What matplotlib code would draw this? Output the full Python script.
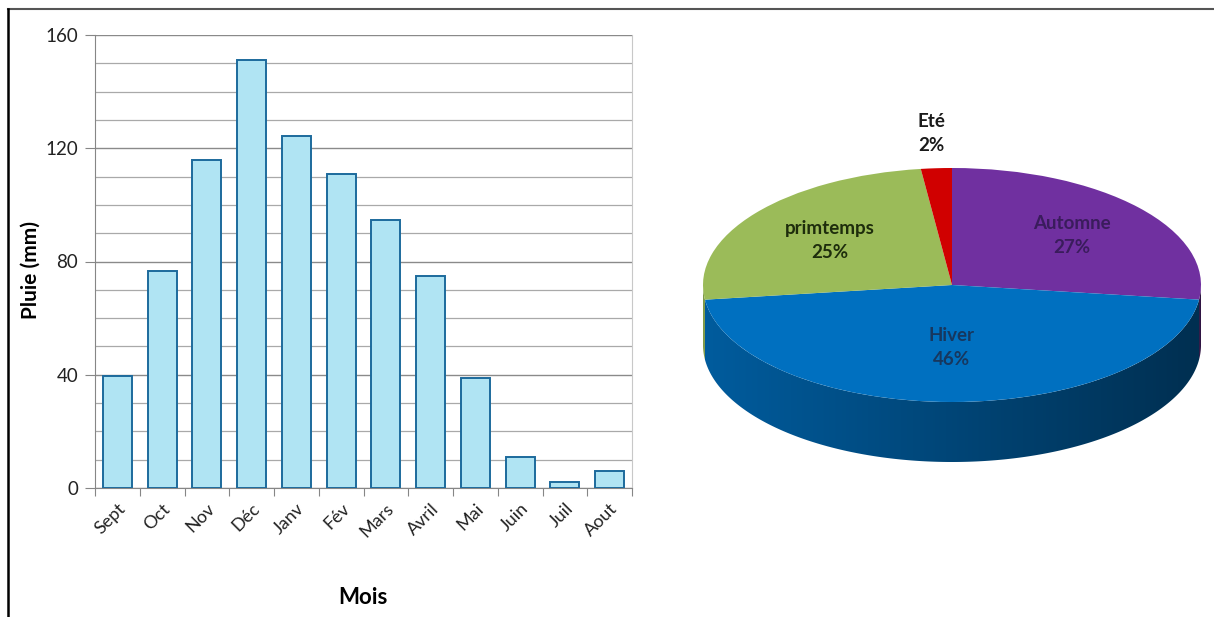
import numpy as np
import matplotlib.pyplot as plt
from matplotlib.colors import to_rgb
from matplotlib.patches import Polygon
from matplotlib.lines import Line2D

plt.rcParams['font.family'] = ['Lato', 'DejaVu Sans']

# pluie mensuelle
mois = ['Sept', 'Oct', 'Nov', 'Déc', 'Janv', 'Fév', 'Mars', 'Avril', 'Mai', 'Juin', 'Juil', 'Aout']
pluie = [39.5, 76.5, 116, 151, 124.5, 111, 94.5, 75, 39, 11, 2, 6]

# part de chaque saison (%)
saisons = ['Automne', 'Hiver', 'primtemps', 'Eté']
parts = [27, 46, 25, 2]
couleurs = ['#7030a0', '#0070c0', '#9bbb59', '#d00000']
couleurs_texte = ['#3a1c5c', '#17375e', '#1e2d0c', '#1a1a1a']

W, H = 1214, 617
fig = plt.figure(figsize=(W / 100, H / 100), dpi=100)

# cadre
fig.add_artist(Line2D([8 / W, 1], [1 - 9 / H, 1 - 9 / H], color='#555555', lw=1.5))
fig.add_artist(Line2D([8 / W, 8 / W], [0, 1 - 9 / H], color='black', lw=1.8))

# ---- histogramme ----
ax = fig.add_axes([95 / W, 1 - 488 / H, 537 / W, 453 / H])
x = np.arange(len(mois))
ax.bar(x, pluie, width=0.65, color='#b0e4f3', edgecolor='#1c6a9c', linewidth=1.4, zorder=3)
ax.set_xlim(-0.5, len(mois) - 0.5)
ax.set_ylim(0, 160)

ax.set_yticks(np.arange(0, 161, 40))
ax.set_yticks(np.arange(0, 161, 10), minor=True)
ax.grid(axis='y', which='major', color='#8a8a8a', lw=1)
ax.grid(axis='y', which='minor', color='#a9a9a9', lw=0.9)
ax.set_axisbelow(True)

ax.set_xticks(np.arange(-0.5, len(mois), 1))
ax.set_xticklabels([])
ax.set_xticks(x, minor=True)
ax.set_xticklabels(mois, minor=True, rotation=45, ha='right', rotation_mode='anchor',
                   fontsize=13, color='#222222')
ax.tick_params(axis='x', which='major', length=6, color='#868686', direction='out')
ax.tick_params(axis='x', which='minor', length=0, pad=9)
ax.tick_params(axis='y', which='major', length=7, color='#868686', labelsize=13.5,
               labelcolor='#222222', pad=5)
ax.tick_params(axis='y', which='minor', length=0)

ax.spines['top'].set_visible(False)
ax.spines['left'].set_color('#868686')
ax.spines['bottom'].set_color('#868686')
ax.spines['right'].set_color('#c8c8c8')

fig.text(31 / W, 1 - 270 / H, 'Pluie (mm)', rotation=90, ha='center', va='center',
         fontsize=15, fontweight='bold')
fig.text(363 / W, 1 - 597 / H, 'Mois', ha='center', va='center', fontsize=16, fontweight='bold')

# ---- camembert 3D ----
a_px, b_px = 249, 117          # demi-axes de l'ellipse en pixels
cx, cy = 952, 285
xl, yl = 1.05, 1.7
pa = fig.add_axes([(cx - xl * a_px) / W, 1 - (cy + yl * b_px) / H,
                   2 * xl * a_px / W, 2 * yl * b_px / H])
epaisseur = 60 / b_px

fr = np.array(parts) / sum(parts)
bords = 90 - 360 * np.concatenate([[0], np.cumsum(fr)])

# flanc visible (moitié avant), dégradé sombre vers la droite
xs = np.linspace(-1, 1, 300)
ombre = 0.62 - 0.2 * xs
for i in range(len(parts)):
    t = np.radians(np.linspace(bords[i + 1], bords[i], 400))
    t = t[np.sin(t) < 0]
    if len(t) < 2:
        continue
    haut = np.column_stack([np.cos(t), np.sin(t)])
    bas = haut[::-1] - [0, epaisseur]
    flanc = Polygon(np.vstack([haut, bas]), closed=True, facecolor='none', edgecolor='none')
    pa.add_patch(flanc)
    base = np.array(to_rgb(couleurs[i]))
    img = np.clip(base[None, None, :] * ombre[None, :, None], 0, 1)
    img = np.repeat(img, 2, axis=0)
    im = pa.imshow(img, extent=(-1, 1, -1 - epaisseur, 0.05), aspect='auto',
                   origin='lower', interpolation='bilinear', zorder=1)
    im.set_clip_path(flanc)

wedges, _ = pa.pie(parts, startangle=90, counterclock=False, colors=couleurs, radius=1,
                   wedgeprops=dict(linewidth=0))
for w in wedges:
    w.set_zorder(2)

rayons = [0.64, 0.53, 0.62, 1.3]
for i, (nom, p) in enumerate(zip(saisons, parts)):
    mid = np.radians((bords[i] + bords[i + 1]) / 2)
    pa.text(rayons[i] * np.cos(mid), rayons[i] * np.sin(mid), f'{nom}\n{p}%',
            ha='center', va='center', fontsize=13.5, fontweight='bold',
            color=couleurs_texte[i], linespacing=1.5, zorder=3)

pa.set_aspect('auto')
pa.set_xlim(-xl, xl)
pa.set_ylim(-yl, yl)
pa.axis('off')

fig.savefig('out.png', dpi=100)
